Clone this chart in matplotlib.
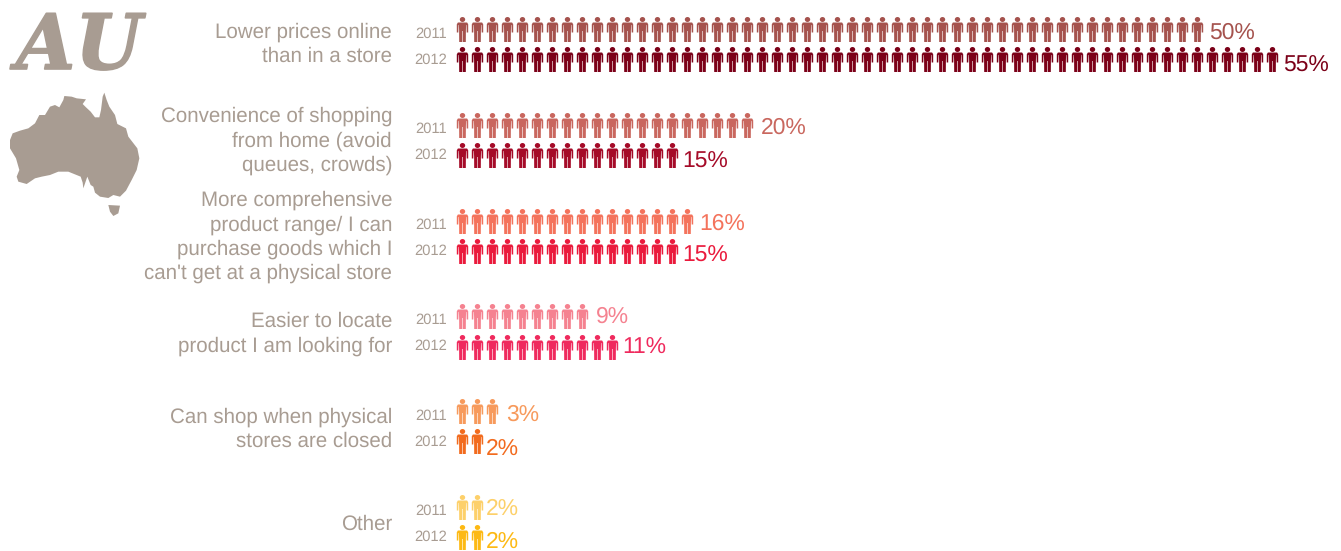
import matplotlib
matplotlib.use('Agg')
import matplotlib.pyplot as plt
import matplotlib.patheffects as pe
import numpy as np
from matplotlib.path import Path
from matplotlib.patches import Polygon

plt.rcParams['font.family'] = ['Liberation Sans', 'DejaVu Sans']
plt.rcParams['text.hinting'] = 'none'

# values: one person per percent
labels = [
    "Lower prices online\nthan in a store",
    "Convenience of shopping\nfrom home (avoid\nqueues, crowds)",
    "More comprehensive\nproduct range/ I can\npurchase goods which I\ncan't get at a physical store",
    "Easier to locate\nproduct I am looking for",
    "Can shop when physical\nstores are closed",
    "Other",
]
values_2011 = [50, 20, 16, 9, 3, 2]
values_2012 = [55, 15, 15, 11, 2, 2]
colors_2011 = ['#a5524d', '#c9675e', '#f4735c', '#f58290', '#f79a5c', '#fdd06a']
colors_2012 = ['#7b0018', '#a50b28', '#ea1a3c', '#ef2a5d', '#f26b1e', '#fdb913']
years = ['2011', '2012']

# row positions in picture pixels
rows_2011 = [29, 124.5, 220.5, 316, 411, 507]
rows_2012 = [59, 155, 250.5, 346.5, 441, 537]
year_y_2011 = [34, 129, 225, 320, 416, 511]
year_y_2012 = [60, 155, 251, 346, 442, 537]
label_y = [44, 141, 237, 334, 429, 524]
pct_pos_2011 = [(1209, 33), (761, 128), (699, 224), (596, 317), (506, 415), (486, 509)]
pct_pos_2012 = [(1283, 66), (682, 162), (682, 256), (622, 348), (486, 449), (486, 541.5)]

gray = '#a89c92'

# outline of the map
australia_x = [30, 38, 60, 85, 105, 118, 135, 150, 165, 178, 190, 193, 215, 230, 258, 248, 258, 272,
               285, 298, 303, 308, 313, 320, 328, 345, 352, 378, 385, 412, 418, 410, 395, 378, 360,
               340, 325, 300, 285, 280, 272, 262, 250, 248, 242, 205, 175, 150, 125, 105, 80, 55,
               50, 58, 48, 30]
australia_y = [420, 400, 392, 385, 370, 345, 345, 320, 315, 322, 300, 288, 290, 295, 298, 312, 322, 335,
               352, 352, 330, 290, 278, 300, 320, 345, 372, 385, 410, 445, 475, 510, 540, 572, 590,
               585, 594, 590, 578, 560, 555, 530, 565, 548, 530, 515, 515, 525, 530, 535, 552, 545,
               530, 510, 475, 445]
tasmania_x = [325, 360, 355, 340, 330]
tasmania_y = [615, 617, 640, 648, 635]


def person():
    t = np.linspace(0, 2 * np.pi, 25)
    head = np.c_[2.7 * np.cos(t), 10.0 + 2.5 * np.sin(t)]
    # right half of the body, mirrored for the left
    right = [(0.3, -1.5), (0.3, -12.5), (3.3, -12.5), (3.4, -1), (3.6, 4.5), (4.0, 4.5), (4.2, -3),
             (5.7, -3), (5.7, 5.2), (4.6, 7), (0, 7)]
    left = [(-x, y) for x, y in reversed(right)]
    body = right + left[1:] + [right[0]]
    verts, codes = [], []
    for part in [head, body]:
        part = [tuple(p) for p in part]
        verts += part
        codes += [Path.MOVETO] + [Path.LINETO] * (len(part) - 2) + [Path.CLOSEPOLY]
    return Path(verts, codes)


fig = plt.figure(figsize=(13.41, 5.51), dpi=100)
ax = fig.add_axes([0, 0, 1, 1])
ax.set_xlim(0, 1341)
ax.set_ylim(551, 0)
ax.axis('off')

marker = person()
for i in range(len(labels)):
    for vals, ys, cols, yr, yr_y, pos in [
        (values_2011, rows_2011, colors_2011, years[0], year_y_2011, pct_pos_2011),
        (values_2012, rows_2012, colors_2012, years[1], year_y_2012, pct_pos_2012),
    ]:
        xs = 462 + 15 * np.arange(vals[i])
        ax.scatter(xs, np.full(vals[i], ys[i]), marker=marker, s=324, color=cols[i], linewidths=0)
        ax.text(431, yr_y[i], yr, fontsize=10.6, color=gray, ha='center', va='center')
        ax.text(pos[i][0], pos[i][1], '{}%'.format(vals[i]), fontsize=16.5, color=cols[i],
                ha='left', va='center')
    ax.text(392, label_y[i], labels[i], fontsize=14.8, color=gray, ha='right', va='center',
            linespacing=1.32)

ax.add_patch(Polygon(np.c_[australia_x, australia_y] / 3, closed=True, fc=gray, ec='none'))
ax.add_patch(Polygon(np.c_[tasmania_x, tasmania_y] / 3, closed=True, fc=gray, ec='none'))
au = ax.text(16, 69, 'AU', fontsize=55, color=gray, family='DejaVu Serif', weight='bold', style='italic',
             ha='left', va='baseline')
au.set_path_effects([pe.withStroke(linewidth=1.2, foreground=gray)])

fig.savefig('out.png', dpi=100)
